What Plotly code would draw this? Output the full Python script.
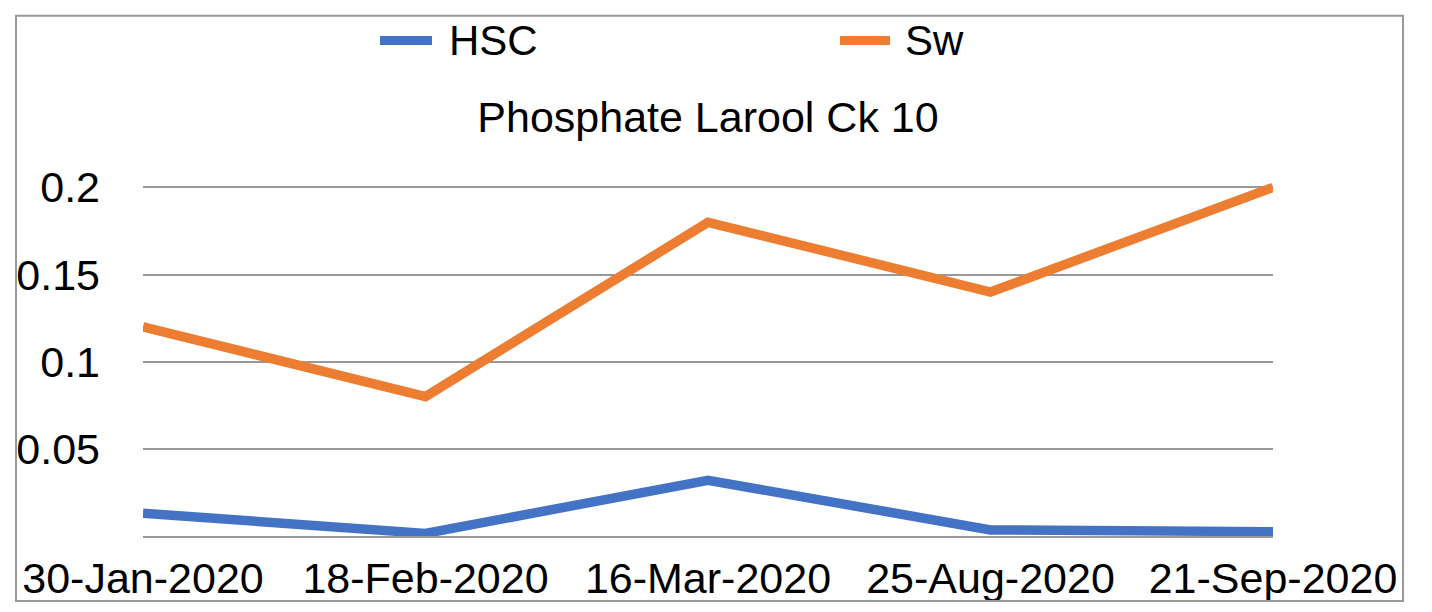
import plotly.graph_objects as go

categories = ["30-Jan-2020", "18-Feb-2020", "16-Mar-2020", "25-Aug-2020", "21-Sep-2020"]
hsc = [0.013, 0.0015, 0.032, 0.0035, 0.0025]
sw = [0.12, 0.08, 0.18, 0.14, 0.2]
series_names = ["HSC", "Sw"]
series_colors = ["#4472C4", "#ED7D31"]
ytick_vals = [0, 0.05, 0.1, 0.15, 0.2]
ytick_text = ["", "0.05", "0.1", "0.15", "0.2"]
title_text = "Phosphate Larool Ck 10"

W, H = 1432, 612
left, right_px = 143, 1273
zero_px, top_val_px = 536, 187
ymax = 0.21
plot_h = (zero_px - top_val_px) * ymax / 0.2
top = zero_px - plot_h
bottom = H - zero_px

FONT = "Liberation Sans, Arial, Helvetica, sans-serif"

fig = go.Figure()
for name, vals, col in zip(series_names, [hsc, sw], series_colors):
    fig.add_trace(go.Scatter(x=categories, y=vals, mode="lines", name=name,
                             line=dict(color=col, width=9.5), showlegend=False))

def px_x(p):
    return (p - left) / (right_px - left)

def px_y(p):
    return (zero_px - p) / plot_h

# outer border
fig.add_shape(type="rect", xref="paper", yref="paper",
              x0=px_x(16), x1=px_x(1403), y0=px_y(601), y1=px_y(15),
              line=dict(color="#999999", width=2), layer="above")

# legend (drawn manually to match long swatches)
legend_line_x = [(380, 432), (840, 890)]
legend_text_x = [447, 903]
legend_y = 40
for name, col, (lx0, lx1), tx in zip(series_names, series_colors, legend_line_x, legend_text_x):
    fig.add_shape(type="line", xref="paper", yref="paper",
                  x0=px_x(lx0), x1=px_x(lx1), y0=px_y(legend_y), y1=px_y(legend_y),
                  line=dict(color=col, width=9))
    fig.add_annotation(text=name, xref="paper", yref="paper", x=px_x(tx),
                       y=px_y(legend_y), xanchor="left", yanchor="middle",
                       showarrow=False, font=dict(size=42, color="black"))

fig.update_layout(
    width=W, height=H,
    margin=dict(l=left, r=W - right_px, t=top, b=bottom, pad=0, autoexpand=False),
    paper_bgcolor="white", plot_bgcolor="white",
    font=dict(family=FONT, size=43, color="black"),
    title=dict(text=title_text, x=0.5, xref="paper", xanchor="center",
               y=1 - 117 / H, yref="container", yanchor="middle",
               font=dict(size=43, color="black")),
    showlegend=False,
    xaxis=dict(type="category", range=[0, 4], showgrid=False, zeroline=False,
               showline=True, linecolor="#999999", linewidth=2, automargin=False,
               ticks="", tickfont=dict(size=43), ticklabelstandoff=3),
    yaxis=dict(range=[0, ymax], tickvals=ytick_vals, ticktext=ytick_text,
               showgrid=True, gridcolor="#999999", gridwidth=2, automargin=False,
               zeroline=False, showline=False, ticks="",
               tickfont=dict(size=43), ticklabelstandoff=42),
)

fig.write_html(
    "out.html",
    config={"displayModeBar": False},
    post_script="document.body.style.margin='0px';document.body.style.overflow='hidden';",
)
